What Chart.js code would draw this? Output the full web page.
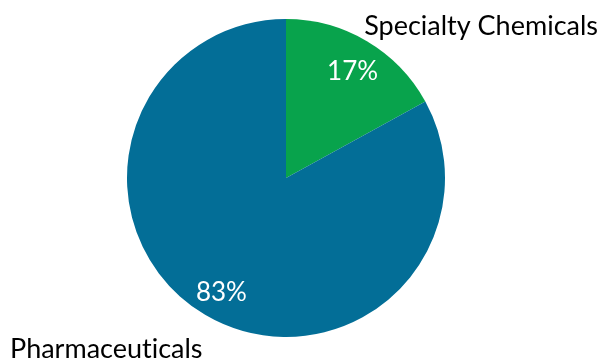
<!DOCTYPE html>
<html>
<head>
<meta charset="utf-8">
<script src="https://cdn.jsdelivr.net/npm/chart.js@4.4.0/dist/chart.umd.min.js"></script>
<style>
  html, body { margin: 0; padding: 0; background: #fff; }
  #wrap { width: 604px; height: 360px; position: relative; }
</style>
</head>
<body>
<div id="wrap"><canvas id="chart" width="604" height="360"></canvas></div>
<script>
// segment names and their shares (percent)
var categories = ['Specialty Chemicals', 'Pharmaceuticals'];
var shares = [17, 83];
var sliceColors = ['#08A34C', '#036E97'];

var pctFont = '26px Lato, "Open Sans", sans-serif';
var nameFont = '27px Lato, "Open Sans", sans-serif';

// Lato joins "ti" into a ligature; a zero-width non-joiner keeps them apart
function noLigatures(s) {
  return s.replace(/t(?=i)/g, 't\u200C');
}

// draws the percent inside each slice and the category name outside it
var sliceLabels = {
  id: 'sliceLabels',
  afterDatasetsDraw: function (chart) {
    var ctx = chart.ctx;
    var meta = chart.getDatasetMeta(0);
    var total = shares.reduce(function (a, b) { return a + b; }, 0);
    ctx.save();
    meta.data.forEach(function (arc, i) {
      var p = arc.getProps(['x', 'y', 'startAngle', 'endAngle', 'outerRadius'], true);
      var mid = (p.startAngle + p.endAngle) / 2;
      var cos = Math.cos(mid), sin = Math.sin(mid);

      // percent value
      var r1 = p.outerRadius * 0.81;
      ctx.font = pctFont;
      ctx.fillStyle = '#ffffff';
      ctx.textAlign = 'center';
      ctx.textBaseline = 'middle';
      ctx.fillText(Math.round(shares[i] / total * 100) + '%', p.x + cos * r1 + 1, p.y + sin * r1 + 4);

      // category name, box corner pinned just outside the rim
      var name = noLigatures(categories[i]);
      var r2 = p.outerRadius * 1.05;
      var ax = p.x + cos * r2, ay = p.y + sin * r2;
      ctx.font = nameFont;
      var w = ctx.measureText(name).width;
      var left = cos >= 0 ? ax : ax - w;
      left = Math.max(10, Math.min(chart.width - 6 - w, left));
      ctx.fillStyle = '#000000';
      ctx.textAlign = 'left';
      if (sin < 0) {
        ctx.textBaseline = 'alphabetic';
        ctx.fillText(name, left, ay + 1);
      } else {
        ctx.textBaseline = 'top';
        ctx.fillText(name, left, ay + 14);
      }
    });
    ctx.restore();
  }
};

new Chart(document.getElementById('chart'), {
  type: 'pie',
  data: {
    labels: categories,
    datasets: [{
      data: shares,
      backgroundColor: sliceColors,
      borderWidth: 0
    }]
  },
  options: {
    responsive: false,
    animation: false,
    layout: { padding: { top: 19, bottom: 23, left: 127, right: 159 } },
    plugins: {
      legend: { display: false },
      tooltip: { enabled: false }
    }
  },
  plugins: [sliceLabels]
});
</script>
</body>
</html>
